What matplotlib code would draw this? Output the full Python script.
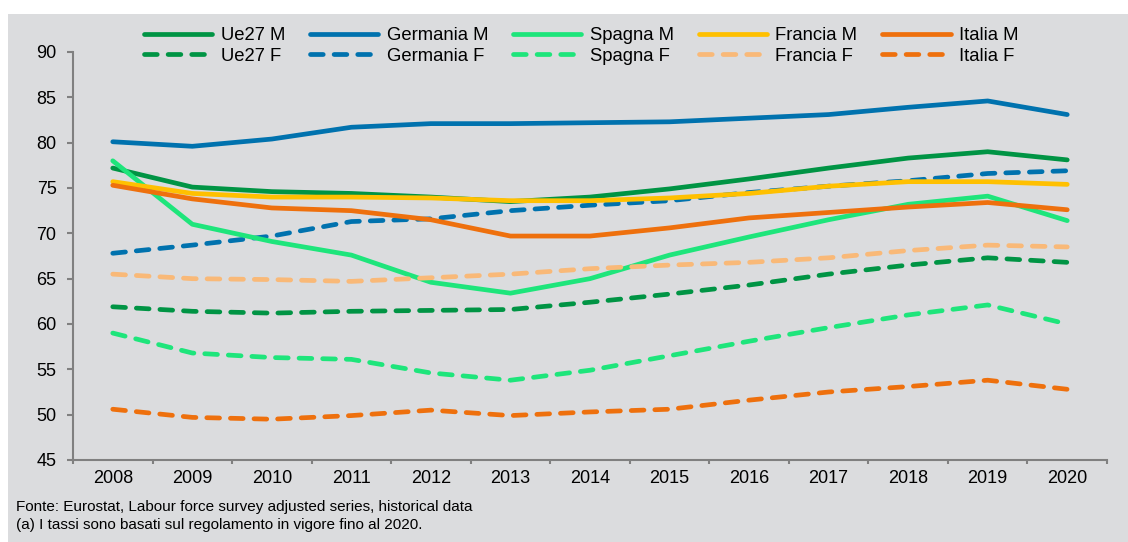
import matplotlib
matplotlib.use("Agg")
import matplotlib.pyplot as plt
from matplotlib.patches import Rectangle
from matplotlib.ticker import FixedLocator

years = [2008, 2009, 2010, 2011, 2012, 2013, 2014, 2015, 2016, 2017, 2018, 2019, 2020]

ue27_m = [77.2, 75.1, 74.6, 74.4, 74.0, 73.5, 74.0, 74.9, 76.0, 77.2, 78.3, 79.0, 78.1]
ue27_f = [61.9, 61.4, 61.2, 61.4, 61.5, 61.6, 62.4, 63.3, 64.3, 65.5, 66.5, 67.3, 66.8]
germania_m = [80.1, 79.6, 80.4, 81.7, 82.1, 82.1, 82.2, 82.3, 82.7, 83.1, 83.9, 84.6, 83.1]
germania_f = [67.8, 68.7, 69.7, 71.3, 71.6, 72.5, 73.1, 73.6, 74.5, 75.2, 75.8, 76.6, 76.9]
spagna_m = [78.0, 71.0, 69.1, 67.6, 64.6, 63.4, 65.0, 67.6, 69.6, 71.5, 73.2, 74.1, 71.4]
spagna_f = [59.0, 56.8, 56.3, 56.1, 54.6, 53.8, 54.9, 56.5, 58.1, 59.6, 61.0, 62.1, 60.0]
francia_m = [75.7, 74.4, 74.0, 74.0, 73.9, 73.6, 73.6, 73.9, 74.4, 75.2, 75.7, 75.7, 75.4]
francia_f = [65.5, 65.0, 64.9, 64.7, 65.1, 65.5, 66.1, 66.5, 66.8, 67.3, 68.1, 68.7, 68.5]
italia_m = [75.3, 73.8, 72.8, 72.5, 71.5, 69.7, 69.7, 70.6, 71.7, 72.3, 72.9, 73.4, 72.6]
italia_f = [50.6, 49.7, 49.5, 49.9, 50.5, 49.9, 50.3, 50.6, 51.6, 52.5, 53.1, 53.8, 52.8]

series = [
    ("Ue27 M", ue27_m, "#009444", False),
    ("Ue27 F", ue27_f, "#009444", True),
    ("Germania M", germania_m, "#0072AE", False),
    ("Germania F", germania_f, "#0072AE", True),
    ("Spagna M", spagna_m, "#1EE57B", False),
    ("Spagna F", spagna_f, "#1EE57B", True),
    ("Francia M", francia_m, "#FFC000", False),
    ("Francia F", francia_f, "#F9B978", True),
    ("Italia M", italia_m, "#EE700D", False),
    ("Italia F", italia_f, "#EE700D", True),
]
note_lines = ["Fonte: Eurostat, Labour force survey adjusted series, historical data",
              "(a) I tassi sono basati sul regolamento in vigore fino al 2020."]

BG = "#DBDCDE"
AXC = "#808080"
plt.rcParams["font.family"] = ["Liberation Sans", "DejaVu Sans"]

fig = plt.figure(figsize=(11.28, 5.42), dpi=100)
fig.patches.append(Rectangle((8 / 1128, 0), 1, 1 - 14 / 542, transform=fig.transFigure,
                             facecolor=BG, edgecolor="none", zorder=-10))
ax = fig.add_axes([73 / 1128, 1 - 460 / 542, (1107 - 73) / 1128, (460 - 52) / 542])
ax.set_facecolor("none")

x = list(range(len(years)))
for label, vals, col, dashed in series:
    if dashed:
        ax.plot(x, vals, color=col, lw=3.4, label=label, dashes=(2.7, 2.3),
                dash_capstyle="round", dash_joinstyle="round")
    else:
        ax.plot(x, vals, color=col, lw=3.4, label=label, solid_capstyle="round",
                solid_joinstyle="round")

ax.set_xlim(-0.5, len(years) - 0.5)
ax.set_ylim(45, 90)
ax.set_yticks(range(45, 91, 5))
ax.set_xticks(x)
ax.set_xticklabels([str(y) for y in years])
ax.xaxis.set_minor_locator(FixedLocator([i - 0.5 for i in range(len(years) + 1)]))
ax.tick_params(axis="x", which="major", length=0, pad=7, labelsize=13)
ax.tick_params(axis="x", which="minor", length=3, color=AXC, width=1.5, direction="out")
ax.tick_params(axis="y", length=4.3, color=AXC, width=1.5, labelsize=13, pad=7.5)
for s in ["top", "right"]:
    ax.spines[s].set_visible(False)
for s in ["left", "bottom"]:
    ax.spines[s].set_color(AXC)
    ax.spines[s].set_linewidth(1.5)

fig.legend(loc="upper left", bbox_to_anchor=(144 / 1128, 1 - 27 / 542), ncol=5, frameon=False,
           fontsize=13.3, handlelength=3.7, handletextpad=0.45, columnspacing=1.35,
           labelspacing=0.2, borderpad=0, borderaxespad=0)

# the source uses a narrow face; regular Liberation at a smaller size keeps the width
fig.text(16 / 1128, 1 - 507 / 542, note_lines[0], va="center", fontsize=11.0)
fig.text(16 / 1128, 1 - 525 / 542, note_lines[1], va="center", fontsize=11.0)

fig.savefig("out.png", dpi=100)
